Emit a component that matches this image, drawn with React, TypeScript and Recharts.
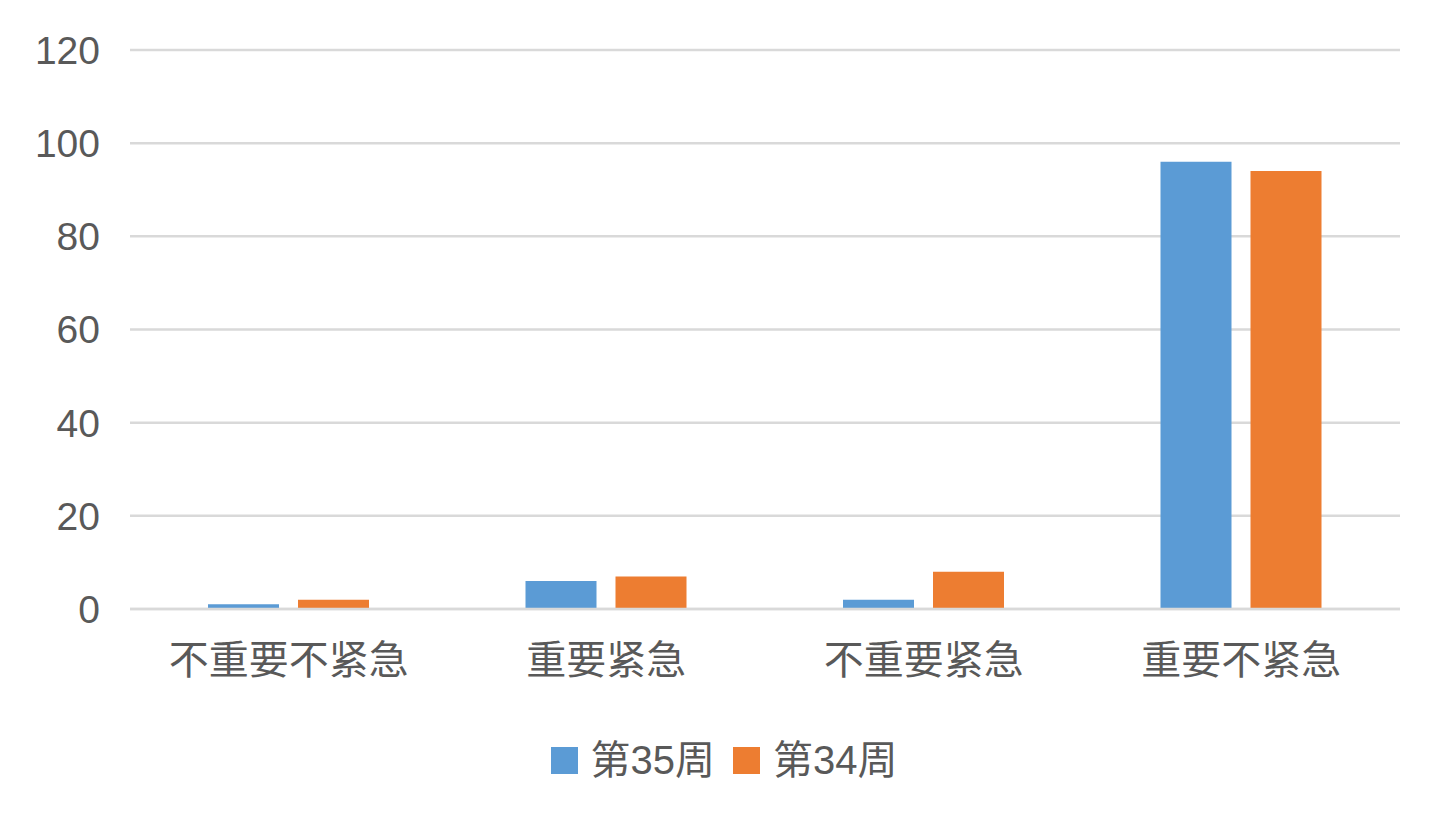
import React from 'react';
import { BarChart, Bar, XAxis, YAxis, CartesianGrid, Legend } from 'recharts';

const categories = ['不重要不紧急', '重要紧急', '不重要紧急', '重要不紧急'];
const week35 = [1, 6, 2, 96];
const week34 = [2, 7, 8, 94];
const yTicks = [0, 20, 40, 60, 80, 100, 120];
const seriesOrder = ['w35', 'w34'];

const data = categories.map((name, i) => ({ name, w35: week35[i], w34: week34[i] }));

const font = '"Liberation Sans", "Noto Sans CJK SC", sans-serif';
const textColor = '#595959';

function LegendContent(props: any) {
  const items = [...(props.payload || [])].sort(
    (a: any, b: any) => seriesOrder.indexOf(a.dataKey) - seriesOrder.indexOf(b.dataKey)
  );
  return (
    <div style={{ display: 'flex', justifyContent: 'center', alignItems: 'center', gap: 18, paddingLeft: 48 }}>
      {items.map((it: any) => (
        <div key={it.dataKey} style={{ display: 'flex', alignItems: 'center', gap: 13 }}>
          <span style={{ width: 27, height: 27, background: it.color, display: 'inline-block' }} />
          <span style={{ color: textColor, fontSize: 40, fontFamily: font, lineHeight: '50px' }}>{it.value}</span>
        </div>
      ))}
    </div>
  );
}

export default function App() {
  return (
    <div style={{ position: 'absolute', left: 0, top: 0, background: '#fff', fontFamily: font }}>
      <BarChart
        width={1451}
        height={824}
        data={data}
        margin={{ top: 50, right: 51, left: 0, bottom: 31 }}
        barSize={71}
        barGap={19}
      >
        <CartesianGrid vertical={false} stroke="#D9D9D9" strokeWidth={2.5} />
        <XAxis
          dataKey="name"
          height={126}
          tickLine={false}
          tickSize={0}
          tickMargin={37}
          axisLine={{ stroke: '#D9D9D9', strokeWidth: 2.5 }}
          tick={{ fill: textColor, fontSize: 40, fontFamily: font }}
        />
        <YAxis
          width={130}
          domain={[0, 120]}
          ticks={yTicks}
          axisLine={false}
          tickLine={false}
          tickSize={0}
          tickMargin={30}
          tick={{ fill: textColor, fontSize: 39, fontFamily: font }}
        />
        <Legend verticalAlign="bottom" height={58} content={LegendContent} />
        <Bar dataKey="w35" name="第35周" fill="#5B9BD5" isAnimationActive={false} />
        <Bar dataKey="w34" name="第34周" fill="#ED7D31" isAnimationActive={false} />
      </BarChart>
    </div>
  );
}
